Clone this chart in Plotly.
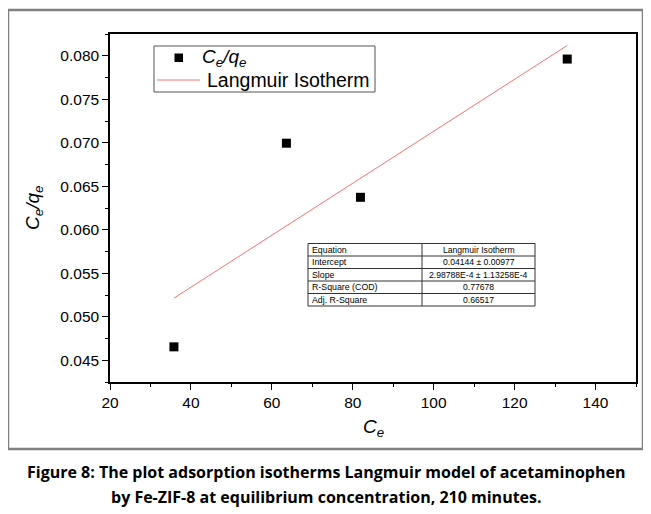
import plotly.graph_objects as go

# ---- data ----
ce = [35.8, 63.6, 81.9, 133.0]
ce_qe = [0.04654, 0.06995, 0.06373, 0.07962]
fit_x = [35.8, 133.0]
fit_y = [0.05214, 0.08118]

table_rows = ["Equation", "Intercept", "Slope", "R-Square (COD)", "Adj. R-Square"]
table_vals = ["Langmuir Isotherm", "0.04144 \u00b1 0.00977", "2.98788E-4 \u00b1 1.13258E-4",
              "0.77678", "0.66517"]
x_ticks = [20, 40, 60, 80, 100, 120, 140]
y_ticks = [0.045, 0.050, 0.055, 0.060, 0.065, 0.070, 0.075, 0.080]

# page body adds an 8px offset; work in reference pixel coordinates and shift
OFF = 8
W, H = 651 - OFF, 514 - OFF
L, R, T, B = 110, 636, 34, 382   # plot area in reference pixels


def px(x):
    return (x - L) / (R - L)


def py(y):
    return (B - y) / (B - T)


fig = go.Figure()
fig.add_trace(go.Scatter(
    x=ce, y=ce_qe, mode="markers", name="<i>C<sub>e</sub>/q<sub>e</sub></i>",
    marker=dict(symbol="square", size=9, color="black"), showlegend=False))
fig.add_trace(go.Scatter(
    x=fit_x, y=fit_y, mode="lines", name="Langmuir Isotherm",
    line=dict(color="#ff7070", width=1), showlegend=False))

shapes = []
annotations = []
FONT = "Liberation Sans, Arial"

# outer frame
shapes.append(dict(type="rect", xref="paper", yref="paper",
                   x0=px(8), x1=px(643), y0=py(449), y1=py(10),
                   line=dict(color="#808080", width=2.5), fillcolor="rgba(0,0,0,0)", layer="below"))

# legend box
shapes.append(dict(type="rect", xref="paper", yref="paper",
                   x0=px(154), x1=px(375), y0=py(92), y1=py(46),
                   line=dict(color="#555555", width=1), fillcolor="white"))
shapes.append(dict(type="rect", xref="paper", yref="paper",
                   x0=px(174.5), x1=px(183), y0=py(62), y1=py(53.5),
                   line=dict(width=0), fillcolor="black"))
shapes.append(dict(type="line", xref="paper", yref="paper",
                   x0=px(157), x1=px(200), y0=py(80), y1=py(80),
                   line=dict(color="#ff7070", width=1)))
annotations.append(dict(xref="paper", yref="paper", x=px(200), y=py(58),
                        text="<i>C<sub>e</sub>/q<sub>e</sub></i>", showarrow=False,
                        xanchor="left", yanchor="middle",
                        font=dict(family=FONT, size=19, color="black")))
annotations.append(dict(xref="paper", yref="paper", x=px(205), y=py(80),
                        text="Langmuir Isotherm", showarrow=False,
                        xanchor="left", yanchor="middle",
                        font=dict(family=FONT, size=19.5, color="black")))

# results table
tl, tr, tm = 308, 535, 422
tt, tb = 243.5, 306
rh = (tb - tt) / len(table_rows)
shapes.append(dict(type="rect", xref="paper", yref="paper",
                   x0=px(tl), x1=px(tr), y0=py(tb), y1=py(tt),
                   line=dict(color="#333333", width=1), fillcolor="white"))
shapes.append(dict(type="line", xref="paper", yref="paper",
                   x0=px(tm), x1=px(tm), y0=py(tb), y1=py(tt),
                   line=dict(color="#333333", width=1)))
for i in range(1, len(table_rows)):
    yy = tt + i * rh
    shapes.append(dict(type="line", xref="paper", yref="paper",
                       x0=px(tl), x1=px(tr), y0=py(yy), y1=py(yy),
                       line=dict(color="#333333", width=1)))
for i, (lab, val) in enumerate(zip(table_rows, table_vals)):
    yc = tt + (i + 0.5) * rh
    annotations.append(dict(xref="paper", yref="paper", x=px(tl + 2), y=py(yc),
                            text=lab, showarrow=False, xanchor="left", yanchor="middle",
                            font=dict(family=FONT, size=8.8, color="black")))
    annotations.append(dict(xref="paper", yref="paper", x=px((tm + tr) / 2), y=py(yc),
                            text=val, showarrow=False, xanchor="center", yanchor="middle",
                            font=dict(family=FONT, size=8.6, color="black")))

# axis titles
annotations.append(dict(xref="paper", yref="paper", x=px(373), y=py(428),
                        text="<i>C<sub>e</sub></i>", showarrow=False,
                        xanchor="center", yanchor="middle",
                        font=dict(family=FONT, size=19, color="black")))
annotations.append(dict(xref="paper", yref="paper", x=px(34), y=py(208),
                        text="<i>C<sub>e</sub>/q<sub>e</sub></i>", showarrow=False, textangle=-90,
                        xanchor="center", yanchor="middle",
                        font=dict(family=FONT, size=19, color="black")))

# caption
cap_font = dict(family="Open Sans, Noto Sans", size=16, color="black")
annotations.append(dict(xref="paper", yref="paper", x=px(326), y=py(472),
                        text="<b>Figure 8: The plot adsorption isotherms Langmuir model of acetaminophen</b>",
                        showarrow=False, xanchor="center", yanchor="middle", font=cap_font))
annotations.append(dict(xref="paper", yref="paper", x=px(326), y=py(497),
                        text="<b>by Fe-ZIF-8 at equilibrium concentration, 210 minutes.</b>",
                        showarrow=False, xanchor="center", yanchor="middle", font=cap_font))

axis_common = dict(showgrid=False, zeroline=False, showline=True, linecolor="black",
                   linewidth=1.5, mirror=True, ticks="outside", ticklen=6, tickwidth=1.2,
                   tickcolor="black",
                   tickfont=dict(family=FONT, size=15.5, color="black"))

fig.update_layout(
    width=W, height=H, autosize=False,
    margin=dict(l=L - OFF, r=(651 - R), t=T - OFF, b=(514 - B), pad=0),
    paper_bgcolor="white", plot_bgcolor="white",
    shapes=shapes, annotations=annotations,
    xaxis=dict(range=[20, 150], tickmode="array", tickvals=x_ticks,
               **axis_common),
    yaxis=dict(range=[0.0425, 0.0825], tickmode="array", tickvals=y_ticks,
               ticktext=[f"{v:.3f}" for v in y_ticks],
               **axis_common),
)
fig.update_xaxes(minor=dict(ticks="outside", ticklen=3.5, tickwidth=1.2, tickcolor="black",
                            tick0=10, dtick=20))
fig.update_yaxes(minor=dict(ticks="outside", ticklen=3.5, tickwidth=1.2, tickcolor="black",
                            tick0=0.0475, dtick=0.005))

fig.write_html("out.html")
